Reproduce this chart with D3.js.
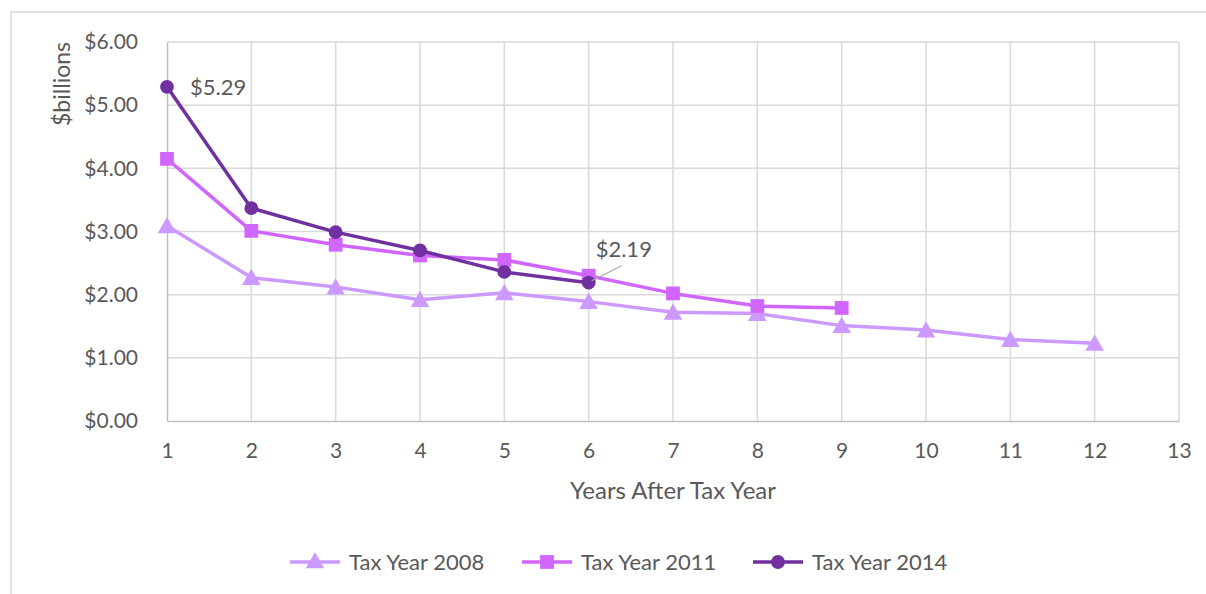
<!DOCTYPE html>
<html>
<head>
<meta charset="utf-8">
<script src="https://cdn.jsdelivr.net/npm/d3@7"></script>
<style>
  html, body { margin: 0; padding: 0; background: #fff; }
  svg { display: block; font-family: Lato, "Open Sans", sans-serif; }
</style>
</head>
<body>
<svg id="chart" width="1206" height="594"></svg>
<script>
// Years after the tax year (x) and amounts in $billions for each tax year cohort
const years = [1, 2, 3, 4, 5, 6, 7, 8, 9, 10, 11, 12];
const taxYear2008 = [3.09, 2.27, 2.12, 1.92, 2.03, 1.89, 1.72, 1.70, 1.51, 1.44, 1.29, 1.23];
const taxYear2011 = [4.15, 3.01, 2.79, 2.62, 2.55, 2.30, 2.02, 1.82, 1.79];
const taxYear2014 = [5.29, 3.37, 2.99, 2.70, 2.36, 2.19];
const seriesNames = ["Tax Year 2008", "Tax Year 2011", "Tax Year 2014"];
const seriesColors = ["#cc99ff", "#d166ff", "#7030a0"];
const seriesSymbols = [d3.symbolTriangle, d3.symbolSquare, d3.symbolCircle];
const xTicks = [1, 2, 3, 4, 5, 6, 7, 8, 9, 10, 11, 12, 13];
const yTicks = [0, 1, 2, 3, 4, 5, 6];

const series = [taxYear2008, taxYear2011, taxYear2014].map((vals, i) => ({
  name: seriesNames[i],
  color: seriesColors[i],
  symbol: seriesSymbols[i],
  points: vals.map((v, j) => ({ x: years[j], y: v }))
}));

const svg = d3.select("#chart");
const textColor = "#595959";
const gridColor = "#d9d9d9";

// Outer chart frame
svg.append("rect")
  .attr("x", 11).attr("y", 12).attr("width", 1200).attr("height", 600)
  .attr("fill", "none").attr("stroke", gridColor).attr("stroke-width", 1.5);

const plot = { left: 167, right: 1179, top: 42, bottom: 421 };
const x = d3.scaleLinear().domain([1, 13]).range([plot.left, plot.right]);
const y = d3.scaleLinear().domain([0, 6]).range([plot.bottom, plot.top]);

// Gridlines
const grid = svg.append("g");
grid.selectAll(".hg").data(yTicks.filter(d => d > 0)).join("line")
  .attr("x1", plot.left).attr("x2", plot.right)
  .attr("y1", d => y(d)).attr("y2", d => y(d))
  .attr("stroke", gridColor).attr("stroke-width", 1.5);
grid.selectAll(".vg").data(xTicks.filter(d => d > 1)).join("line")
  .attr("x1", d => x(d)).attr("x2", d => x(d))
  .attr("y1", plot.top).attr("y2", plot.bottom)
  .attr("stroke", gridColor).attr("stroke-width", 1.5);

// Axes
const xAxis = d3.axisBottom(x).tickValues(xTicks).tickSize(0).tickPadding(22)
  .tickFormat(d3.format("d"));
const yAxis = d3.axisLeft(y).tickValues(yTicks).tickSize(0).tickPadding(29)
  .tickFormat(d => "$" + d3.format(".2f")(d));

const gx = svg.append("g").attr("transform", `translate(0,${plot.bottom})`).call(xAxis);
const gy = svg.append("g").attr("transform", `translate(${plot.left},0)`).call(yAxis);
[gx, gy].forEach(g => {
  g.select(".domain").attr("stroke", "#bfbfbf").attr("stroke-width", 1.5);
  g.selectAll("text").attr("fill", textColor).attr("font-size", 21)
    .attr("font-family", "Lato, 'Open Sans', sans-serif");
});

// Axis titles
svg.append("text")
  .attr("x", x(7)).attr("y", 499)
  .attr("text-anchor", "middle").attr("fill", textColor).attr("font-size", 24)
  .text("Years After Tax Year");
svg.append("text")
  .attr("transform", "translate(70,84) rotate(-90)")
  .attr("text-anchor", "middle").attr("fill", textColor).attr("font-size", 23)
  .text("$billions");

// Lines and markers
const line = d3.line().x(d => x(d.x)).y(d => y(d.y));
const symbolSizes = { 0: 150, 1: 190, 2: 150 };

series.forEach((s, i) => {
  svg.append("path").datum(s.points)
    .attr("d", line).attr("fill", "none")
    .attr("stroke", s.color).attr("stroke-width", 3.5)
    .attr("stroke-linejoin", "round");
  svg.append("g").selectAll("path").data(s.points).join("path")
    .attr("transform", d => `translate(${x(d.x)},${y(d.y) + (i === 0 ? 2 : 0)})`)
    .attr("d", d3.symbol().type(s.symbol).size(symbolSizes[i]))
    .attr("fill", s.color);
});

// Data labels on the 2014 series
const first2014 = series[2].points[0];
svg.append("text")
  .attr("x", x(first2014.x) + 23).attr("y", y(first2014.y) + 8)
  .attr("fill", textColor).attr("font-size", 22)
  .text("$" + first2014.y.toFixed(2));

const last2014 = series[2].points[series[2].points.length - 1];
svg.append("line")
  .attr("x1", x(last2014.x) + 3).attr("y1", y(last2014.y) - 2)
  .attr("x2", x(last2014.x) + 33).attr("y2", y(last2014.y) - 17)
  .attr("stroke", "#a6a6a6").attr("stroke-width", 1.2);
svg.append("text")
  .attr("x", x(last2014.x) + 7).attr("y", y(last2014.y) - 26)
  .attr("fill", textColor).attr("font-size", 22)
  .text("$" + last2014.y.toFixed(2));

// Legend
const legendX = [290, 522, 753];
const legendY = 562;
const legend = svg.append("g");
series.forEach((s, i) => {
  const g = legend.append("g").attr("transform", `translate(${legendX[i]},${legendY})`);
  g.append("line").attr("x1", 0).attr("x2", 50).attr("y1", 0).attr("y2", 0)
    .attr("stroke", s.color).attr("stroke-width", 3.5);
  g.append("path").attr("transform", `translate(25,${i === 0 ? 1 : 0})`)
    .attr("d", d3.symbol().type(s.symbol).size(symbolSizes[i]))
    .attr("fill", s.color);
  g.append("text").attr("x", 59).attr("y", 8)
    .attr("fill", textColor).attr("font-size", 22)
    .text(s.name);
});
</script>
</body>
</html>
